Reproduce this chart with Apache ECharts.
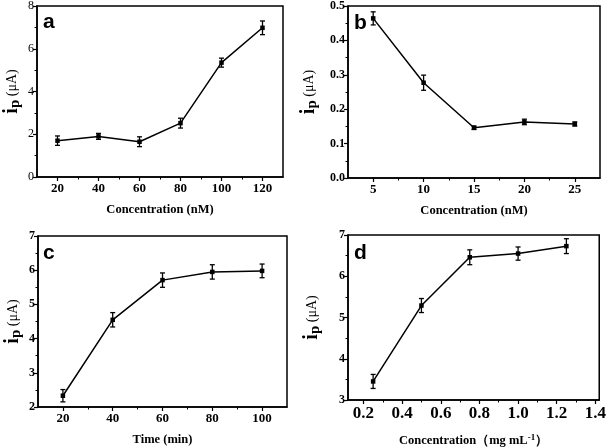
<!DOCTYPE html>
<html><head><meta charset="utf-8">
<script src="https://cdn.jsdelivr.net/npm/echarts@6/dist/echarts.min.js"></script>
<style>html,body{margin:0;padding:0;background:#fff}#c{width:609px;height:448px}</style>
</head><body><div id="c"></div>
<script>
// Panel a
const xA = [20, 40, 60, 80, 100, 120];
const yA = [1.70, 1.90, 1.65, 2.52, 5.35, 6.98];
const eA = [0.22, 0.14, 0.23, 0.23, 0.21, 0.32];
// Panel b
const xB = [5, 10, 15, 20, 25];
const yB = [0.464, 0.277, 0.146, 0.163, 0.157];
const eB = [0.019, 0.022, 0.005, 0.008, 0.006];
// Panel c
const xC = [20, 40, 60, 80, 100];
const yC = [2.33, 4.55, 5.71, 5.95, 5.98];
const eC = [0.18, 0.21, 0.21, 0.21, 0.20];
// Panel d
const xD = [0.25, 0.5, 0.75, 1.0, 1.25];
const yD = [3.45, 5.29, 6.46, 6.55, 6.73];
const eD = [0.17, 0.17, 0.18, 0.16, 0.18];

// tick labels
const xTicksA = [20, 40, 60, 80, 100, 120], xMinorA = [30, 50, 70, 90, 110];
const yTicksA = [0, 2, 4, 6, 8], yMinorA = [1, 3, 5, 7];
const xTicksB = [5, 10, 15, 20, 25], xMinorB = [7.5, 12.5, 17.5, 22.5];
const yTicksB = [0, 0.1, 0.2, 0.3, 0.4, 0.5], yMinorB = [0.05, 0.15, 0.25, 0.35, 0.45];
const xTicksC = [20, 40, 60, 80, 100], xMinorC = [30, 50, 70, 90];
const yTicksC = [2, 3, 4, 5, 6, 7], yMinorC = [2.5, 3.5, 4.5, 5.5, 6.5];
const xTicksD = [0.2, 0.4, 0.6, 0.8, 1.0, 1.2, 1.4], xMinorD = [0.3, 0.5, 0.7, 0.9, 1.1, 1.3];
const yTicksD = [3, 4, 5, 6, 7], yMinorD = [3.5, 4.5, 5.5, 6.5];

const letters = ['a', 'b', 'c', 'd'];
const xNames = ['Concentration (nM)', 'Concentration (nM)', 'Time (min)', '{t|Concentration（mg mL}{s|-1}{t|）}'];

const SERIF = '"Liberation Serif","Times New Roman",serif';

const panels = [
  {x: xA, y: yA, e: eA, xt: xTicksA, xm: xMinorA, yt: yTicksA, ym: yMinorA, xmin: 10, xmax: 130, ymin: 0, ymax: 8,
   grid: {left: 37, top: 5, width: 246, height: 172}, ylBold: 'normal', xlSize: 13, ylSize: 12, yGap: 14, xFmt: v => String(v), yFmt: v => String(v),
   letterPos: [43, 12]},
  {x: xB, y: yB, e: eB, xt: xTicksB, xm: xMinorB, yt: yTicksB, ym: yMinorB, xmin: 2.5, xmax: 27.5, ymin: 0, ymax: 0.5,
   grid: {left: 348, top: 6, width: 252, height: 172}, ylBold: 'bold', xlSize: 13, ylSize: 12, yGap: 28, xFmt: v => String(v), yFmt: v => v.toFixed(1),
   letterPos: [354, 13]},
  {x: xC, y: yC, e: eC, xt: xTicksC, xm: xMinorC, yt: yTicksC, ym: yMinorC, xmin: 10, xmax: 110, ymin: 2, ymax: 7,
   grid: {left: 38, top: 236, width: 249, height: 171}, ylBold: 'bold', xlSize: 13, ylSize: 12, yGap: 14, xFmt: v => String(v), yFmt: v => String(v),
   letterPos: [43, 243]},
  {x: xD, y: yD, e: eD, xt: xTicksD, xm: xMinorD, yt: yTicksD, ym: yMinorD, xmin: 0.12, xmax: 1.42, ymin: 3, ymax: 7,
   grid: {left: 348, top: 235, width: 253, height: 172}, ylBold: 'bold', xlSize: 17, ylSize: 12, yGap: 25, xFmt: v => v.toFixed(1), yFmt: v => String(v),
   letterPos: [354, 243]}
];

const grids = [], xAxes = [], yAxes = [], series = [], graphics = [];
panels.forEach((p, i) => {
  grids.push(Object.assign({show: true, borderColor: '#000', borderWidth: 1.5, backgroundColor: 'transparent'}, p.grid));
  const lineStyle = {color: '#000', width: 1.5};
  xAxes.push({
    type: 'value', gridIndex: i, position: 'bottom', min: p.xmin, max: p.xmax,
    axisLine: {show: true, onZero: false, lineStyle},
    axisTick: {show: true, inside: false, length: 4, lineStyle: {color: '#000', width: 1.2}, customValues: p.xt},
    axisLabel: {show: true, customValues: p.xt, formatter: p.xFmt, color: '#000', fontFamily: SERIF, fontWeight: 'bold', fontSize: p.xlSize, margin: 5},
    splitLine: {show: false},
    name: xNames[i], nameLocation: 'middle', nameGap: i === 3 ? 33 : 26,
    nameTextStyle: {color: '#000', fontFamily: SERIF, fontWeight: 'bold', fontSize: 12.5,
      rich: {t: {fontFamily: SERIF, fontWeight: 'bold', fontSize: 12.5, color: '#000'},
             s: {fontFamily: SERIF, fontWeight: 'bold', fontSize: 9, color: '#000', verticalAlign: 'top', padding: [0, 0, 6, 0]}}}
  });
  xAxes.push({
    type: 'value', gridIndex: i, position: 'bottom', min: p.xmin, max: p.xmax,
    axisLine: {show: false},
    axisTick: {show: true, inside: false, length: 2.5, lineStyle: {color: '#000', width: 1}, customValues: p.xm},
    axisLabel: {show: false}, splitLine: {show: false}
  });
  yAxes.push({
    type: 'value', gridIndex: i, position: 'left', min: p.ymin, max: p.ymax,
    axisLine: {show: true, onZero: false, lineStyle},
    axisTick: {show: true, inside: false, length: 4, lineStyle: {color: '#000', width: 1.2}, customValues: p.yt},
    axisLabel: {show: true, customValues: p.yt, formatter: p.yFmt, color: '#000', fontFamily: SERIF, fontWeight: p.ylBold, fontSize: p.ylSize, margin: 3},
    splitLine: {show: false},
    name: '{i|i}{p|p}{u| (μA)}', nameLocation: 'middle', nameGap: p.yGap, nameRotate: 90,
    nameTextStyle: {color: '#000', fontFamily: SERIF,
      rich: {i: {fontFamily: SERIF, fontWeight: 'bold', fontSize: 20, color: '#000', verticalAlign: 'middle'},
             p: {fontFamily: SERIF, fontWeight: 'bold', fontSize: 15, color: '#000', verticalAlign: 'bottom', padding: [7, 0, 0, 0]},
             u: {fontFamily: SERIF, fontSize: 14, color: '#000', verticalAlign: 'middle'}}}
  });
  yAxes.push({
    type: 'value', gridIndex: i, position: 'left', min: p.ymin, max: p.ymax,
    axisLine: {show: false},
    axisTick: {show: true, inside: false, length: 2.5, lineStyle: {color: '#000', width: 1}, customValues: p.ym},
    axisLabel: {show: false}, splitLine: {show: false}
  });
  const xi = i * 2, yi = i * 2;
  series.push({
    type: 'line', xAxisIndex: xi, yAxisIndex: yi,
    data: p.x.map((v, k) => [v, p.y[k]]),
    symbol: 'rect', symbolSize: 4.5, showSymbol: true,
    itemStyle: {color: '#000'}, lineStyle: {color: '#000', width: 1.5}, animation: false, z: 3
  });
  series.push({
    type: 'custom', xAxisIndex: xi, yAxisIndex: yi,
    data: p.x.map((v, k) => [v, p.y[k] - p.e[k], p.y[k] + p.e[k]]),
    renderItem: (params, api) => {
      const lo = api.coord([api.value(0), api.value(1)]);
      const hi = api.coord([api.value(0), api.value(2)]);
      const w = 2.5;
      const st = {stroke: '#000', lineWidth: 1.3};
      return {type: 'group', children: [
        {type: 'line', shape: {x1: lo[0], y1: lo[1], x2: hi[0], y2: hi[1]}, style: st},
        {type: 'line', shape: {x1: lo[0] - w, y1: lo[1], x2: lo[0] + w, y2: lo[1]}, style: st},
        {type: 'line', shape: {x1: hi[0] - w, y1: hi[1], x2: hi[0] + w, y2: hi[1]}, style: st}
      ]};
    },
    animation: false, z: 4
  });
  graphics.push({type: 'text', left: p.letterPos[0], top: p.letterPos[1],
    style: {text: letters[i], fill: '#000', font: 'bold 21px "Liberation Sans", Arial, sans-serif'}});
});

const chart = echarts.init(document.getElementById('c'), null, {renderer: 'canvas'});
chart.setOption({
  animation: false,
  backgroundColor: '#fff',
  grid: grids, xAxis: xAxes, yAxis: yAxes, series: series, graphic: graphics
});
</script></body></html>
